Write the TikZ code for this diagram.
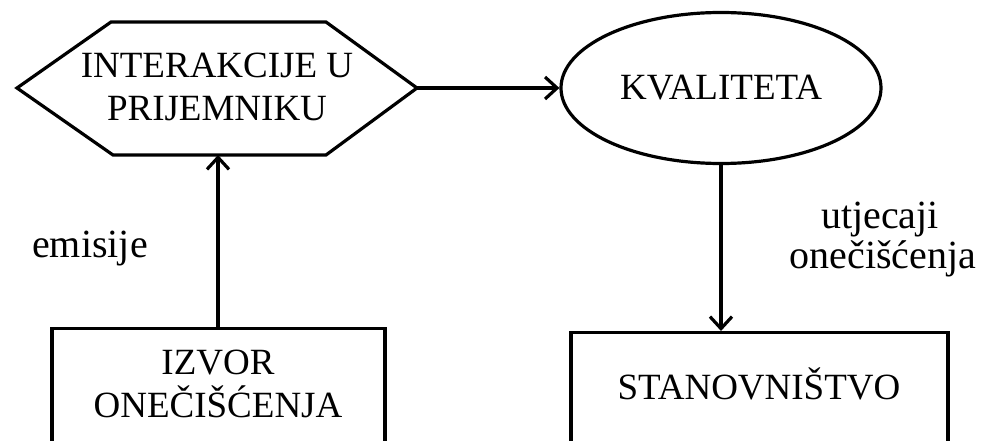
\documentclass[tikz,border=0pt]{standalone}
\usepackage{fontspec}
\setmainfont{Liberation Serif}
\usetikzlibrary{arrows.meta,shapes.geometric}
\begin{document}
\begin{tikzpicture}[x=1pt,y=-1pt,
  line width=3.2pt,
  arr/.style={-{Straight Barb[length=12pt,width=22pt,line width=3.2pt]}},
  bigtxt/.style={font=\fontsize{37}{43}\selectfont, align=center, inner sep=0pt},
  lbltxt/.style={font=\fontsize{40}{40}\selectfont, align=center, inner sep=0pt},
  box/.style={draw, rectangle, anchor=north, inner sep=0pt}]
\useasboundingbox (0,0) rectangle (985,441);
\clip (0,0) rectangle (985,441);
% hexagon
\coordinate (hL) at (17,88);
\coordinate (hR) at (417,88);
\coordinate (hB) at (218,155);
\draw[line join=miter] (hL) -- (111,22) -- (326,22) -- (hR) -- (326,155) -- (113,155) -- cycle;
\node[bigtxt] (hex) at (217,87) {INTERAKCIJE U\\PRIJEMNIKU};
% ellipse
\node[draw, ellipse, minimum width=320pt, minimum height=151pt, inner sep=0pt] (kval) at (721,88) {};
\node[bigtxt] (kvaltxt) at (721,88) {KVALITETA};
% boxes
\node[box, minimum width=333pt, minimum height=160pt] (izvor) at (218.5,327) {};
\node[bigtxt] (izvortxt) at (218,384) {IZVOR\\ONEČIŠĆENJA};
\node[box, minimum width=377pt, minimum height=160pt] (stan) at (759.5,331) {};
\node[bigtxt] (stantxt) at (759,384) {STANOVNIŠTVO};
% connectors
\draw[arr] (hR) -- (kval.west);
\draw[arr] (izvor.north -| hB) -- (hB);
\draw[arr] (kval.south) -- (stan.north -| kval.south);
% labels
\node[lbltxt, anchor=base] (emis) at (90,257) {emisije};
\node[lbltxt, anchor=base] (utj1) at (880,228) {utjecaji};
\node[lbltxt, anchor=base] (utj2) at (883,268) {onečišćenja};
\end{tikzpicture}
\end{document}
